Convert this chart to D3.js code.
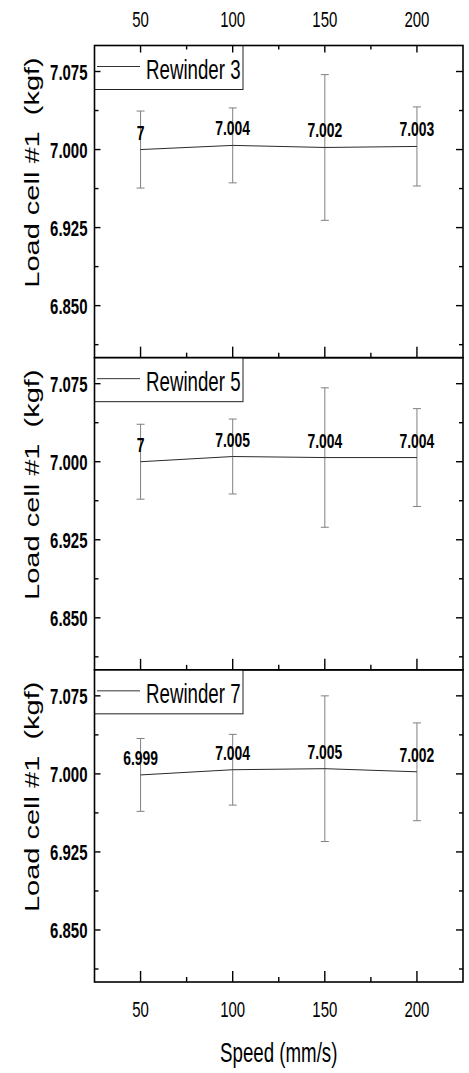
<!DOCTYPE html>
<html>
<head>
<meta charset="utf-8">
<script src="https://cdn.jsdelivr.net/npm/d3@7"></script>
<style>
  body { margin: 0; background: #fff; }
  svg { display: block; }
</style>
</head>
<body>
<script>
// ---- data ----
const speeds = [50, 100, 150, 200];
const xTicks = [50, 100, 150, 200];
const xMinorTicks = [75, 125, 175];
const yTicks = [6.85, 6.925, 7.0, 7.075];
const yMinorTicks = [6.8125, 6.8875, 6.9625, 7.0375];
const rewinders = ["Rewinder 3", "Rewinder 5", "Rewinder 7"];
const meanR3 = [7.000, 7.004, 7.002, 7.003];
const meanR5 = [7.000, 7.005, 7.004, 7.004];
const meanR7 = [6.999, 7.004, 7.005, 7.002];
const errR3 = [0.037, 0.036, 0.070, 0.038];
const errR5 = [0.036, 0.036, 0.067, 0.047];
const errR7 = [0.035, 0.034, 0.070, 0.047];
const xTitle = "Speed (mm/s)";
const yTitle = "Load cell #1  (kgf)";

const panels = [
  { name: rewinders[0], mean: meanR3, err: errR3 },
  { name: rewinders[1], mean: meanR5, err: errR5 },
  { name: rewinders[2], mean: meanR7, err: errR7 }
];

// ---- layout ----
const W = 469, H = 1073;
const plotL = 94.5, plotR = 463;
const plotTop = 45.5, plotBottom = 982;
const panelH = (plotBottom - plotTop) / panels.length;
const SX = 0.68;            // horizontal squeeze of glyphs
const FONT = "'Liberation Sans', Arial, sans-serif";

const svg = d3.select("body").append("svg")
  .attr("width", W).attr("height", H);

const x = d3.scaleLinear().domain([25, 225]).range([plotL, plotR]);

function label(g, px, py, str, opts) {
  return g.append("text")
    .attr("transform", `translate(${px},${py}) scale(${SX},1)`)
    .attr("text-anchor", opts.anchor || "middle")
    .attr("font-family", FONT)
    .attr("font-size", opts.size)
    .attr("font-weight", opts.weight || "normal")
    .attr("fill", "#000")
    .text(str);
}

panels.forEach((p, i) => {
  const top = plotTop + i * panelH;
  const bottom = top + panelH;
  const y = d3.scaleLinear().domain([6.8, 7.1]).range([bottom, top]);
  const g = svg.append("g");

  // legend box
  g.append("rect")
    .attr("x", plotL).attr("y", top)
    .attr("width", 243 - plotL).attr("height", 44)
    .attr("fill", "#fff").attr("stroke", "#222").attr("stroke-width", 1);
  g.append("line")
    .attr("x1", 97).attr("x2", 140)
    .attr("y1", top + 21).attr("y2", top + 21)
    .attr("stroke", "#333").attr("stroke-width", 1);
  label(g, 146, top + 33, p.name, { size: 27.5, anchor: "start" });

  // error bars
  const eb = g.append("g").attr("stroke", "#808080").attr("stroke-width", 1).attr("fill", "none");
  speeds.forEach((s, k) => {
    const cx = x(s);
    const yHi = y(p.mean[k] + p.err[k]);
    const yLo = y(p.mean[k] - p.err[k]);
    eb.append("line").attr("x1", cx).attr("x2", cx).attr("y1", yHi).attr("y2", yLo);
    eb.append("line").attr("x1", cx - 4).attr("x2", cx + 4).attr("y1", yHi).attr("y2", yHi);
    eb.append("line").attr("x1", cx - 4).attr("x2", cx + 4).attr("y1", yLo).attr("y2", yLo);
  });

  // mean line
  const line = d3.line().x((d, k) => x(speeds[k])).y(d => y(d));
  g.append("path")
    .attr("d", line(p.mean))
    .attr("fill", "none").attr("stroke", "#2a2a2a").attr("stroke-width", 1);

  // value labels
  speeds.forEach((s, k) => {
    label(g, x(s), y(p.mean[k]) - 10, String(p.mean[k]), { size: 20.5, weight: "bold" });
  });

  // frame
  g.append("rect")
    .attr("x", plotL).attr("y", top)
    .attr("width", plotR - plotL).attr("height", bottom - top)
    .attr("fill", "none").attr("stroke", "#000").attr("stroke-width", 1.6);

  // ticks
  const tk = g.append("g").attr("stroke", "#000").attr("stroke-width", 1.4);
  xTicks.forEach(v => tk.append("line").attr("x1", x(v)).attr("x2", x(v)).attr("y1", bottom).attr("y2", bottom - 11));
  xMinorTicks.forEach(v => tk.append("line").attr("x1", x(v)).attr("x2", x(v)).attr("y1", bottom).attr("y2", bottom - 5));
  if (i === 0) {
    xTicks.forEach(v => tk.append("line").attr("x1", x(v)).attr("x2", x(v)).attr("y1", top).attr("y2", top + 7));
    xMinorTicks.forEach(v => tk.append("line").attr("x1", x(v)).attr("x2", x(v)).attr("y1", top).attr("y2", top + 4));
  }
  yTicks.forEach(v => {
    tk.append("line").attr("x1", plotL).attr("x2", plotL + 6).attr("y1", y(v)).attr("y2", y(v));
    tk.append("line").attr("x1", plotR).attr("x2", plotR - 7).attr("y1", y(v)).attr("y2", y(v));
  });
  yMinorTicks.forEach(v => {
    tk.append("line").attr("x1", plotL).attr("x2", plotL + 4).attr("y1", y(v)).attr("y2", y(v));
    tk.append("line").attr("x1", plotR).attr("x2", plotR - 4).attr("y1", y(v)).attr("y2", y(v));
  });

  // y tick labels
  yTicks.forEach(v => label(g, 87.5, y(v) + 8, d3.format(".3f")(v), { size: 22, weight: "bold", anchor: "end" }));

  // y title
  g.append("text")
    .attr("transform", `translate(39,${top + 127}) rotate(-90) scale(1,0.69)`)
    .attr("text-anchor", "middle")
    .attr("font-family", FONT)
    .attr("font-size", 29)
    .style("white-space", "pre")
    .attr("fill", "#000")
    .text(yTitle);
});

// top and bottom x tick labels
xTicks.forEach(v => {
  label(svg, x(v), 27, String(v), { size: 22 });
  label(svg, x(v), 1016.5, String(v), { size: 22 });
});

// x title
label(svg, (plotL + plotR) / 2, 1062, xTitle, { size: 27.5 });
</script>
</body>
</html>
